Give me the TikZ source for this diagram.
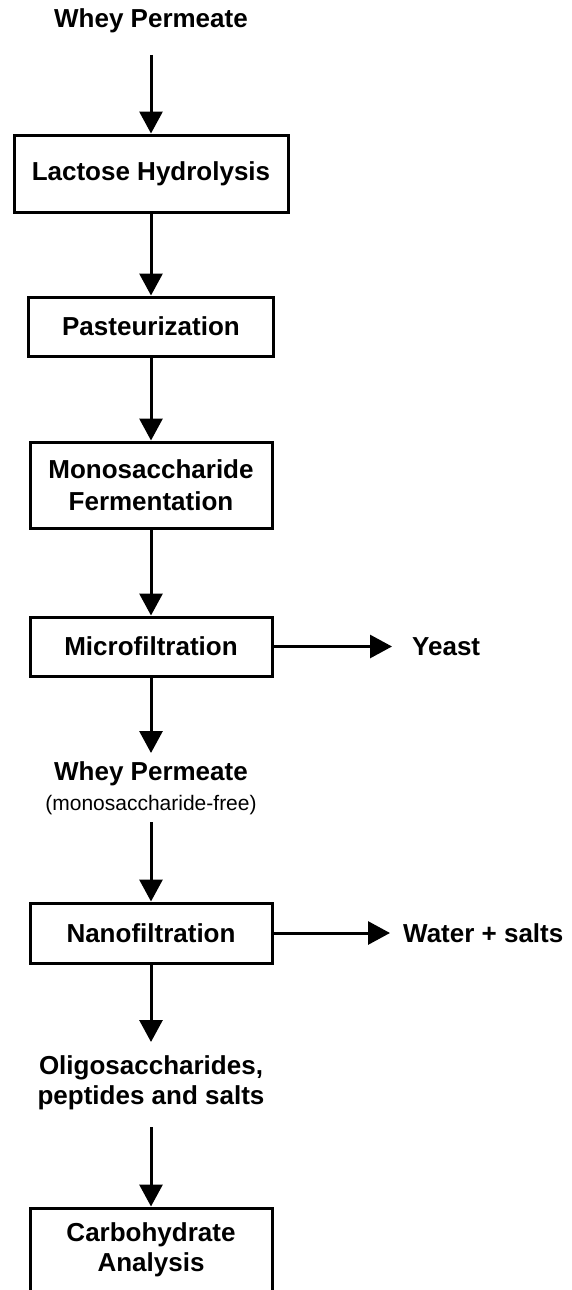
\documentclass[tikz,border=0pt]{standalone}
\usepackage{fontspec}
\setmainfont{Liberation Sans}
\usetikzlibrary{arrows.meta}
\begin{document}
\begin{tikzpicture}[x=1pt,y=-1pt,
  mainfont/.style={font=\bfseries\fontsize{26}{31}\selectfont},
  box/.style={draw,line width=3pt,minimum width=242pt,inner sep=0pt,align=center,mainfont},
  lbl/.style={inner sep=0pt,align=center,mainfont},
  sublbl/.style={inner sep=0pt,align=center,font=\fontsize{21}{24}\selectfont},
  arr/.style={line width=3pt,-{Triangle[width=23pt,length=22pt]}}]
\clip (0,0) rectangle (572,1290);
\fill[white] (0,0) rectangle (572,1290);
% nodes
\node[lbl] (wp) at (151,21) {Whey Permeate};
\node[box,minimum width=274pt,minimum height=77pt] (lh) at (151,173.5) {Lactose Hydrolysis};
\node[box,minimum width=245pt,minimum height=59pt] (pa) at (151,326.5) {Pasteurization};
\node[box,minimum height=86pt,font=\bfseries\fontsize{26}{32}\selectfont] (mf) at (151,485) {Monosaccharide\\Fermentation};
\node[box,minimum height=59pt] (mi) at (151,646.5) {Microfiltration};
\node[lbl,anchor=west] (ye) at (412,646.5) {Yeast};
\node[lbl] (wp2) at (151,774) {Whey Permeate};
\node[sublbl] (wps) at (151,805) {(monosaccharide-free)};
\node[box,minimum height=60pt] (nf) at (151,933) {Nanofiltration};
\node[lbl,anchor=west] (ws) at (403,933) {Water + salts};
\node[lbl,font=\bfseries\fontsize{26}{30}\selectfont] (ol) at (151,1083) {Oligosaccharides,\\peptides and salts};
\node[box,minimum height=84pt,font=\bfseries\fontsize{26}{30}\selectfont] (ca) at (151,1250) {Carbohydrate\\Analysis};
% connectors
\draw[arr,shorten <=34pt] (wp.center) -- (lh.north);
\draw[arr] (lh.south) -- (pa.north);
\draw[arr] (pa.south) -- (mf.north);
\draw[arr] (mf.south) -- (mi.north);
\draw[arr,shorten >=21pt] (mi.south) -- (wp2.center);
\draw[arr,shorten >=20pt] (mi.east) -- (ye.west);
\draw[arr,shorten <=17pt] (wps.center) -- (nf.north);
\draw[arr,shorten >=13pt] (nf.east) -- (ws.west);
\draw[arr,shorten >=41pt] (nf.south) -- (ol.center);
\draw[arr,shorten <=44pt] (ol.center) -- (ca.north);
\end{tikzpicture}
\end{document}
